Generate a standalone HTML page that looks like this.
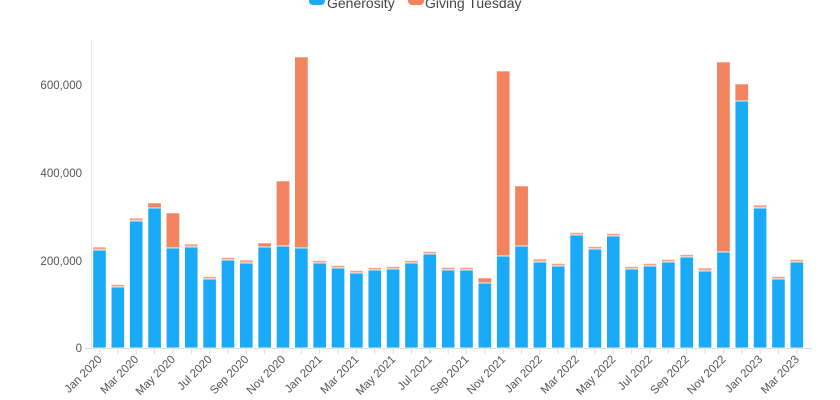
<!DOCTYPE html>
<html><head><meta charset="utf-8"><style>
html,body{margin:0;padding:0;background:#fff;width:840px;height:400px;overflow:hidden}
svg{display:block;font-family:"Liberation Sans",sans-serif}
</style></head><body>
<svg id="c" width="840" height="400" xmlns="http://www.w3.org/2000/svg">
<rect x="309" y="-6" width="16" height="11" rx="4" fill="#1aabf8"/>
<text x="327" y="8" font-size="14" fill="#444">Generosity</text>
<rect x="408" y="-6" width="16" height="11" rx="4" fill="#f38460"/>
<text x="425" y="8" font-size="14" fill="#444">Giving Tuesday</text>
<line x1="91.5" y1="40" x2="91.5" y2="348" stroke="#e6e6e6"/>
<line x1="85" y1="348.5" x2="812" y2="348.5" stroke="#d9d9d9"/>
<g font-size="11.5" fill="#555" text-anchor="end">
<text x="82" y="352">0</text>
<text x="82" y="265">200,000</text>
<text x="82" y="177">400,000</text>
<text x="82" y="89">600,000</text>
</g>
<g id="bars"></g>
</svg>
<script>
var b=[[250,247],[287,285],[221,218],[208,203],[248,213],[247,244],[279,277],[260,258],[263,260],[247,243],[246,181],[248,57],[263,261],[268,267],[273,271],[270,268],[269,267],[263,262],[254,253],[270,268],[270,268],[283,278],[256,71],[246,186],[262,259],[266,264],[235,234],[249,248],[236,234],[269,268],[266,264],[262,261],[257,255],[271,268],[252,62],[101,84],[208,205],[279,277],[262,260]];
var m=["Jan","Feb","Mar","Apr","May","Jun","Jul","Aug","Sep","Oct","Nov","Dec"];
var s="";
for(var i=0;i<b.length;i++){
 var cx=99.5+i*18.35,x=cx-6.7,w=13.4;
 var t=Math.min(b[i][1],b[i][0]-2.5);
 var small=(b[i][0]-b[i][1])<4;
 s+='<rect x="'+x+'" y="'+t+'" width="'+w+'" height="'+(b[i][0]-t)+'" fill="'+(small?'#f6a287':'#f38460')+'" stroke="#fff" stroke-width="0.6"/>';
 s+='<rect x="'+x+'" y="'+b[i][0]+'" width="'+w+'" height="'+(348-b[i][0])+'" fill="#1aabf8" stroke="#fff" stroke-width="0.8"/>';
 s+='<line x1="'+cx+'" y1="349" x2="'+cx+'" y2="354" stroke="#ddd"/>';
 if(i%2==0){var yr=2020+Math.floor(i/12);
  s+='<text transform="translate('+(cx+3)+',360) rotate(-45)" text-anchor="end" font-size="11.5" fill="#555">'+m[i%12]+' '+yr+'</text>';}
}
document.getElementById("bars").innerHTML=s;
</script>
</body></html>
